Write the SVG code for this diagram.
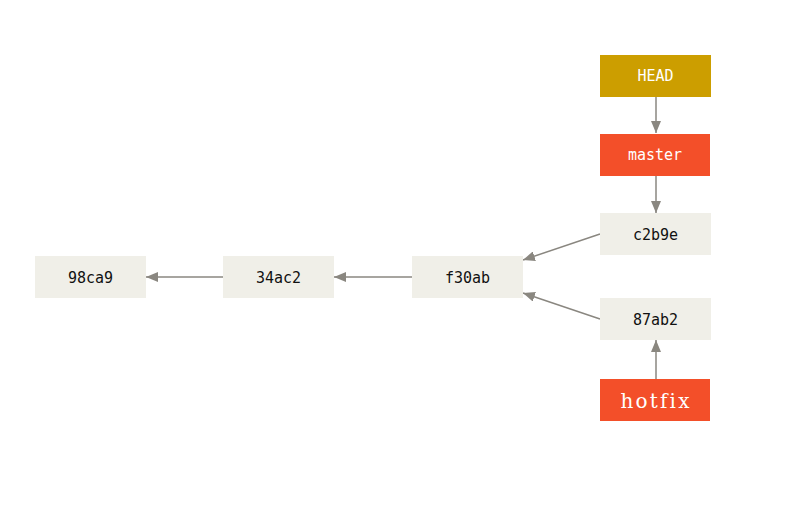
<svg xmlns="http://www.w3.org/2000/svg" width="800" height="512" viewBox="0 0 800 512">
<style>
.commit{fill:#f0efe8}
.ref{fill:#f34f29}
.head{fill:#cc9e00}
.t{font-family:"DejaVu Sans Mono",monospace;font-size:15px;text-anchor:middle;dominant-baseline:central}
.dark{fill:#111}
.light{fill:#fff}
.conn line{stroke:#8a8780;stroke-width:1.5;marker-end:url(#ah)}
</style>
<defs>
<marker id="ah" viewBox="0 0 12 10" refX="12" refY="5" markerWidth="12" markerHeight="10" markerUnits="userSpaceOnUse" orient="auto">
<path d="M0,0 L12,5 L0,10 Z" fill="#8a8780"/>
</marker>
</defs>
<rect width="800" height="512" fill="#fff"/>
<g class="conn">
<line x1="656" y1="97" x2="656" y2="133"/>
<line x1="656" y1="176" x2="656" y2="213"/>
<line x1="600" y1="234" x2="523" y2="260"/>
<line x1="600" y1="319" x2="523" y2="293"/>
<line x1="656" y1="379" x2="656" y2="340"/>
<line x1="412" y1="277" x2="334" y2="277"/>
<line x1="223" y1="277" x2="146" y2="277"/>
</g>
<g id="HEAD"><rect class="head" x="600" y="55" width="111" height="42"/><text class="t light" x="655.5" y="76">HEAD</text></g>
<g id="master"><rect class="ref" x="600" y="134" width="110" height="42"/><text class="t light" x="655" y="155">master</text></g>
<g id="c2b9e"><rect class="commit" x="600" y="213" width="111" height="42"/><text class="t dark" x="655.5" y="235">c2b9e</text></g>
<g id="87ab2"><rect class="commit" x="600" y="298" width="111" height="42"/><text class="t dark" x="655.5" y="320">87ab2</text></g>
<g id="hotfix"><rect class="ref" x="600" y="379" width="110" height="42"/><text x="656" y="401" fill="#fff" font-family="DejaVu Serif,serif" font-size="20" letter-spacing="2.2" text-anchor="middle" dominant-baseline="central">hotfix</text></g>
<g id="f30ab"><rect class="commit" x="412" y="256" width="111" height="42"/><text class="t dark" x="467.5" y="278">f30ab</text></g>
<g id="34ac2"><rect class="commit" x="223" y="256" width="111" height="42"/><text class="t dark" x="278.5" y="278">34ac2</text></g>
<g id="98ca9"><rect class="commit" x="35" y="256" width="111" height="42"/><text class="t dark" x="90.5" y="278">98ca9</text></g>
</svg>
